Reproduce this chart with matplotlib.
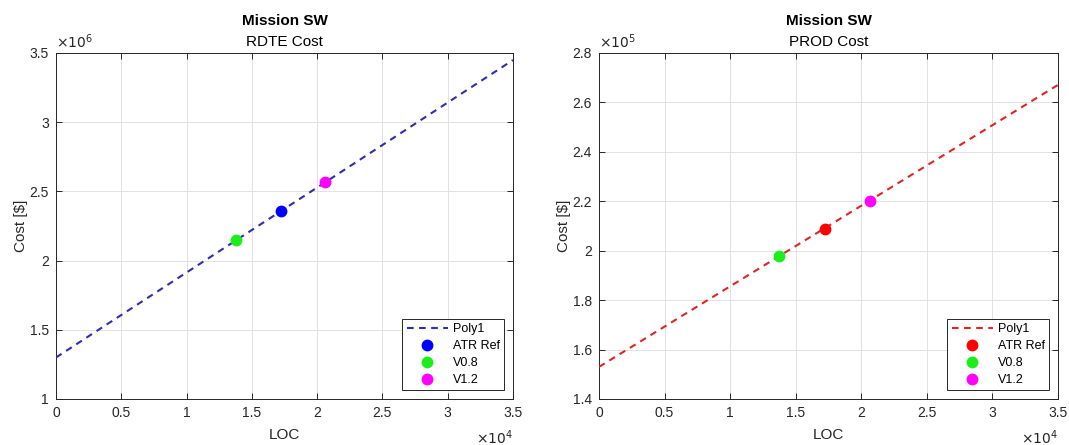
import numpy as np
import matplotlib
matplotlib.use("Agg")
import matplotlib.pyplot as plt
from matplotlib.ticker import FuncFormatter, MultipleLocator

plt.rcParams['font.family'] = ['Liberation Sans', 'DejaVu Sans']

# Software size for each design variant (lines of code)
variants = ["ATR Ref", "V0.8", "V1.2"]
loc = [17200, 13760, 20640]

# Estimated costs for each variant
rdte_cost = [2.355e6, 2.146e6, 2.565e6]
prod_cost = [2.089e5, 1.977e5, 2.200e5]

# Linear (poly1) cost-estimating relationships: [slope, intercept]
rdte_poly1 = [61.4, 1.30e6]
prod_poly1 = [3.26, 1.53e5]

panels = [
    dict(sub="RDTE Cost", cost=rdte_cost, poly=rdte_poly1, ylim=(1e6, 3.5e6),
         ystep=0.5e6, yscale=1e6, yexp=6, line_color="#2e2eae", ref_color="#0000ff"),
    dict(sub="PROD Cost", cost=prod_cost, poly=prod_poly1, ylim=(1.4e5, 2.8e5),
         ystep=0.2e5, yscale=1e5, yexp=5, line_color="#e02424", ref_color="#ff0000"),
]
variant_colors = {"V0.8": "#1cee1c", "V1.2": "#ff00ff"}

W, H = 1069, 445
fig = plt.figure(figsize=(W / 100, H / 100), dpi=100)
fig.patch.set_facecolor("white")

axes_px = [(56, 513), (599, 1058)]
top_px, bot_px = 53, 399

ink = "#262626"
xlim = (0, 35000)

for (x0, x1), p in zip(axes_px, panels):
    ax = fig.add_axes([x0 / W, (H - bot_px) / H, (x1 - x0) / W, (bot_px - top_px) / H])
    xs = np.linspace(xlim[0], xlim[1], 200)
    ax.plot(xs, np.polyval(p["poly"], xs), linestyle=(0, (3.2, 2.6)), lw=1.5,
            color=p["line_color"], label="Poly1", zorder=3)
    for name, x, y in zip(variants, loc, p["cost"]):
        c = p["ref_color"] if name == "ATR Ref" else variant_colors[name]
        ax.plot([x], [y], "o", ms=7.5, color=c, mec=c, label=name, zorder=4)

    ax.set_xlim(*xlim)
    ax.set_ylim(*p["ylim"])
    ax.xaxis.set_major_locator(MultipleLocator(5000))
    ax.yaxis.set_major_locator(MultipleLocator(p["ystep"]))
    ax.xaxis.set_major_formatter(FuncFormatter(lambda v, _: f"{v / 1e4:g}"))
    ys = p["yscale"]
    ax.yaxis.set_major_formatter(FuncFormatter(lambda v, _, s=ys: f"{round(v / s, 6):g}"))

    ax.grid(True, color="#e2e2e2", lw=0.7)
    ax.set_axisbelow(True)
    for s in ax.spines.values():
        s.set_color(ink)
        s.set_linewidth(0.7)
    ax.tick_params(direction="in", length=4, width=0.7, color=ink, labelcolor=ink,
                   labelsize=10, top=True, right=True, pad=5)

    ax.set_xlabel("LOC", fontsize=11, color=ink, labelpad=6)
    ax.set_ylabel("Cost [\\$]", fontsize=11, color=ink, labelpad=1)

    ax.text(0.5, 1.092, "Mission SW", transform=ax.transAxes, ha="center", va="center",
            fontsize=11, fontweight="bold", color="black")
    ax.text(0.5, 1.032, p["sub"], transform=ax.transAxes, ha="center", va="center",
            fontsize=11, color="black")

    ax.text(0.0, 1.005, rf"$\times10^{{{p['yexp']}}}$", transform=ax.transAxes,
            ha="left", va="bottom", fontsize=10, color=ink)
    ax.text(1.0, -0.085, r"$\times10^{4}$", transform=ax.transAxes,
            ha="right", va="top", fontsize=10, color=ink)

    leg = ax.legend(loc="lower right", fontsize=9, numpoints=1, handlelength=3.3,
                    handletextpad=0.4, labelspacing=0.4, borderpad=0.35,
                    borderaxespad=0.7, fancybox=False, framealpha=1, edgecolor=ink)
    leg.get_frame().set_linewidth(0.7)

fig.savefig("out.png", dpi=100, facecolor="white")
